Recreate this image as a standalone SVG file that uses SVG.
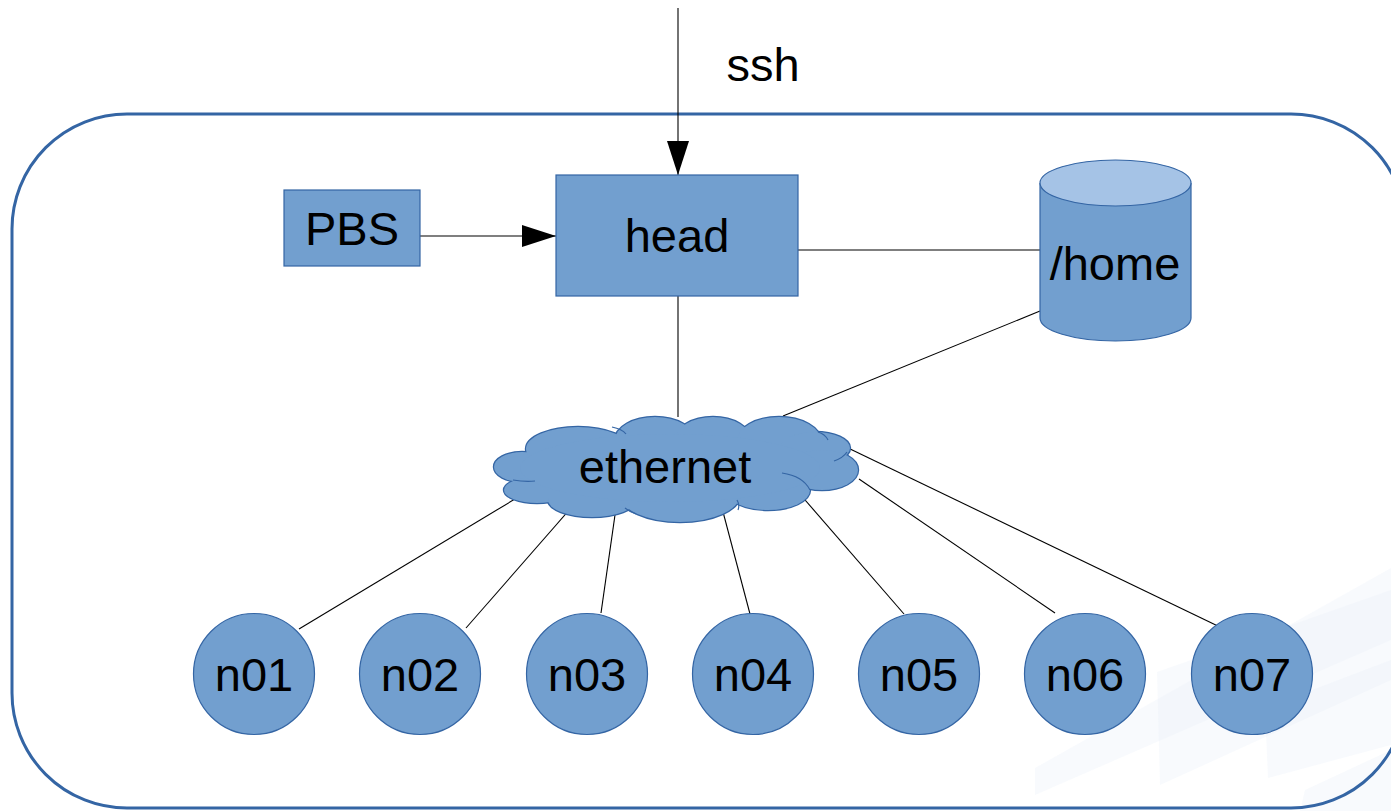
<svg xmlns="http://www.w3.org/2000/svg" width="1391" height="811" viewBox="0 0 1391 811">
<defs>
<style>
.node{fill:#729fcf;stroke:#3465a4;stroke-width:1.2}
.lbl{font-family:"Liberation Sans",Arial,sans-serif;font-size:47px;fill:#000;text-anchor:middle}
.conn{stroke:#000;stroke-width:1.1;fill:none}
.wm{fill:#e9eef7;opacity:0.3}
.cl{fill:#729fcf;stroke:#3465a4;stroke-width:2.4}
.clf{fill:#729fcf;stroke:none}
.inner{fill:none;stroke:#3465a4;stroke-width:1.2}
</style>
<marker id="arr" viewBox="0 0 34 22" refX="34" refY="11" markerWidth="34" markerHeight="22" markerUnits="userSpaceOnUse" orient="auto">
<path d="M0,0 L34,11 L0,22 Z" fill="#000"/>
</marker>
</defs>
<rect width="1391" height="811" fill="#fff"/>
<g id="watermark">
<polygon class="wm" points="1035,768 1391,568 1391,640 1035,795"/>
<polygon class="wm" points="1157,672 1391,590 1391,680 1160,785"/>
<polygon class="wm" points="1265,708 1391,660 1391,745 1268,778"/>
<polygon class="wm" points="1305,790 1391,750 1391,811 1300,811"/>
</g>
<g id="frame">
<rect x="12" y="114" width="1394" height="694" rx="115" ry="115" fill="none" stroke="#3465a4" stroke-width="3"/>
</g>
<g id="connectors">
<line class="conn" x1="678" y1="8" x2="678" y2="175" marker-end="url(#arr)"/>
<line class="conn" x1="420" y1="236" x2="556" y2="236" marker-end="url(#arr)"/>
<line class="conn" x1="798" y1="250" x2="1040" y2="250"/>
<line class="conn" x1="678" y1="296" x2="678" y2="417"/>
<line class="conn" x1="1040" y1="311" x2="783" y2="416"/>
<line class="conn" x1="525" y1="493" x2="299" y2="629"/>
<line class="conn" x1="571" y1="508" x2="466" y2="628"/>
<line class="conn" x1="616" y1="508" x2="601" y2="613"/>
<line class="conn" x1="722" y1="508" x2="750" y2="614"/>
<line class="conn" x1="799" y1="493" x2="904" y2="614"/>
<line class="conn" x1="859" y1="479" x2="1055" y2="613"/>
<line class="conn" x1="846" y1="447" x2="1222" y2="628"/>
</g>
<text class="lbl" x="763" y="81">ssh</text>
<g id="PBS">
<rect class="node" x="284" y="190" width="136" height="76"/>
<text class="lbl" x="352" y="245">PBS</text>
</g>
<g id="head">
<rect class="node" x="556" y="175" width="242" height="121"/>
<text class="lbl" x="677" y="252">head</text>
</g>
<g id="home">
<path class="node" d="M1040,183 L1040,318 A75.5,23 0 0 0 1191,318 L1191,183"/>
<ellipse cx="1115.5" cy="183" rx="75.5" ry="23" fill="#a5c3e6" stroke="#3465a4" stroke-width="1.2"/>
<text class="lbl" x="1115" y="280">/home</text>
</g>
<g id="ethernet">
<ellipse class="cl" cx="522" cy="467" rx="28" ry="15"/>
<ellipse class="cl" cx="537" cy="490" rx="33" ry="13"/>
<ellipse class="cl" cx="578" cy="449" rx="52" ry="22"/>
<ellipse class="cl" cx="592" cy="500" rx="44" ry="17"/>
<ellipse class="cl" cx="655" cy="440" rx="40" ry="23"/>
<ellipse class="cl" cx="713" cy="440" rx="38" ry="23"/>
<ellipse class="cl" cx="779" cy="441" rx="42" ry="24"/>
<ellipse class="cl" cx="815" cy="448" rx="35" ry="16"/>
<ellipse class="cl" cx="822" cy="470" rx="36" ry="20"/>
<ellipse class="cl" cx="768" cy="490" rx="42" ry="20"/>
<ellipse class="cl" cx="680" cy="495" rx="60" ry="27"/>
<ellipse class="clf" cx="522" cy="467" rx="28" ry="15"/>
<ellipse class="clf" cx="537" cy="490" rx="33" ry="13"/>
<ellipse class="clf" cx="578" cy="449" rx="52" ry="22"/>
<ellipse class="clf" cx="592" cy="500" rx="44" ry="17"/>
<ellipse class="clf" cx="655" cy="440" rx="40" ry="23"/>
<ellipse class="clf" cx="713" cy="440" rx="38" ry="23"/>
<ellipse class="clf" cx="779" cy="441" rx="42" ry="24"/>
<ellipse class="clf" cx="815" cy="448" rx="35" ry="16"/>
<ellipse class="clf" cx="822" cy="470" rx="36" ry="20"/>
<ellipse class="clf" cx="768" cy="490" rx="42" ry="20"/>
<ellipse class="clf" cx="680" cy="495" rx="60" ry="27"/>
<ellipse class="clf" cx="670" cy="468" rx="150" ry="34"/>
<path class="inner" d="M513,480 Q525,482 535,481"/>
<path class="inner" d="M612,427 Q622,429 626,434"/>
<path class="inner" d="M818,432 Q825,434 828,440"/>
<path class="inner" d="M834,461 Q843,458 847,452"/>
<path class="inner" d="M782,473 Q803,476 810,490"/>
<path class="inner" d="M625,508 Q630,512 636,514"/>
<path class="inner" d="M737,500 Q740,505 738,510"/>
<text class="lbl" x="665" y="483">ethernet</text>
</g>
<g id="n01"><circle class="node" cx="254" cy="674" r="60.5"/><text class="lbl" x="254" y="691">n01</text></g>
<g id="n02"><circle class="node" cx="420" cy="674" r="60.5"/><text class="lbl" x="420" y="691">n02</text></g>
<g id="n03"><circle class="node" cx="587" cy="674" r="60.5"/><text class="lbl" x="587" y="691">n03</text></g>
<g id="n04"><circle class="node" cx="753" cy="674" r="60.5"/><text class="lbl" x="753" y="691">n04</text></g>
<g id="n05"><circle class="node" cx="919" cy="674" r="60.5"/><text class="lbl" x="919" y="691">n05</text></g>
<g id="n06"><circle class="node" cx="1085" cy="674" r="60.5"/><text class="lbl" x="1085" y="691">n06</text></g>
<g id="n07"><circle class="node" cx="1252" cy="674" r="60.5"/><text class="lbl" x="1252" y="691">n07</text></g>
</svg>
